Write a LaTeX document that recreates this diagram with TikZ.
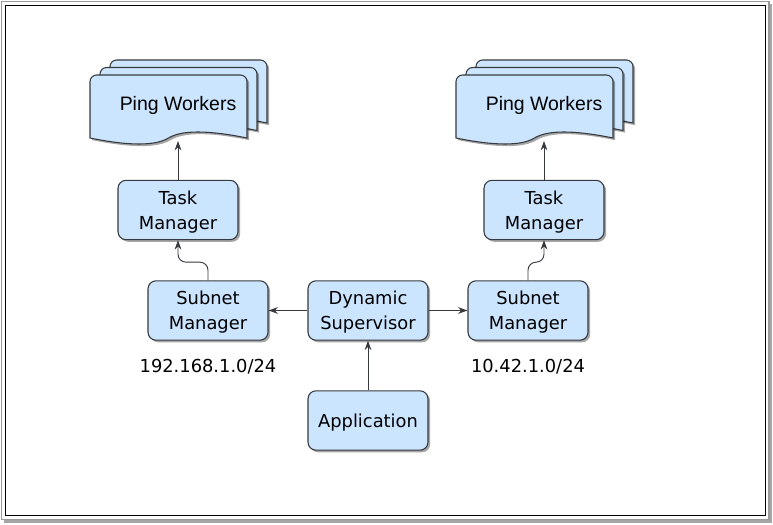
\documentclass[tikz,border=0pt]{standalone}
\usepackage{fontspec}
\setmainfont{DejaVu Sans}
\newfontfamily\pwfont{Liberation Sans}
\usetikzlibrary{arrows.meta,shadows,calc}
\definecolor{boxfill}{HTML}{CCE5FF}
\definecolor{boxline}{HTML}{36393D}
\tikzset{
  box/.style={draw=boxline, fill=boxfill, line width=0.8pt, rounded corners=6pt,
    minimum width=90pt, minimum height=44.5pt, align=center, inner sep=0pt,
    text depth=0pt,
    font=\fontsize{13.4pt}{18.5pt}\selectfont,
    drop shadow={shadow xshift=1.6pt, shadow yshift=-1.6pt, opacity=0.35, fill=black}},
  doc/.style={draw=boxline, fill=boxfill, line width=0.8pt,
    drop shadow={shadow xshift=1.6pt, shadow yshift=-1.6pt, opacity=0.35, fill=black}},
  conn/.style={draw=boxline, line width=0.7pt, -{Stealth[length=7pt,width=5pt]}},
  lbl/.style={font=\fontsize{13.4pt}{16pt}\selectfont, inner sep=0pt},
  pwlbl/.style={font=\pwfont\fontsize{14.6pt}{16pt}\selectfont, inner sep=0pt}
}
% document shape: #1 left x, #2 top y, width 157, wave
\newcommand\mydoc[2]{%
  \path[doc] ($(#1,#2)+(0,10)$) [rounded corners=5pt] -- (#1,#2) -- ($(#1,#2)+(157,0)$) [sharp corners] -- ($(#1,#2)+(157,63)$)
   .. controls ($(#1,#2)+(117.75,55)$) and ($(#1,#2)+(91.6,55)$) .. ($(#1,#2)+(78.5,63)$)
   .. controls ($(#1,#2)+(65.4,71)$) and ($(#1,#2)+(39.25,71)$) .. ($(#1,#2)+(0,63)$) -- cycle;}
\begin{document}
\begin{tikzpicture}[x=0.75pt,y=-0.75pt]
\useasboundingbox (0,0) rectangle (773,524);
\fill[white] (0,0) rectangle (773,524);
% frame
\draw[gray!70, line width=2.2pt] (4,521.5) -- (771,521.5) -- (771,4);
\draw[gray!80, line width=0.8pt] (1.5,1.5) rectangle (769,519.5);
\draw[black, line width=1.3pt] (5.5,5.5) rectangle (765.5,515.5);

% left ping workers stack
\mydoc{110}{60}
\mydoc{100}{67.5}
\mydoc{90}{75}
\node[pwlbl] (pwl) at (178,105) {Ping Workers};
\coordinate (pwlb) at (178,141);
% right ping workers stack
\mydoc{476}{60}
\mydoc{466}{67.5}
\mydoc{456}{75}
\node[pwlbl] (pwr) at (544,105) {Ping Workers};
\coordinate (pwrb) at (544,141);

\node[box] (tml) at (178,210) {Task\\Manager};
\node[box] (tmr) at (544,210) {Task\\Manager};
\node[box] (sml) at (208,310.5) {Subnet\\Manager};
\node[box] (ds) at (368,310.5) {Dynamic\\Supervisor};
\node[box] (smr) at (528,310.5) {Subnet\\Manager};
\node[box] (app) at (368,420.5) {Application};

\node[lbl] (ipl) at (208,367) {192.168.1.0/24};
\node[lbl] (ipr) at (528,367) {10.42.1.0/24};

\draw[conn] (tml.north) -- (pwlb);
\draw[conn] (tmr.north) -- (pwrb);
\draw[conn, rounded corners=6pt] (sml.north) |- ($(tml.south)+(0,22)$) -- (tml.south);
\draw[conn, rounded corners=6pt] (smr.north) |- ($(tmr.south)+(0,22)$) -- (tmr.south);
\draw[conn] (ds.west) -- (sml.east);
\draw[conn] (ds.east) -- (smr.west);
\draw[conn] (app.north) -- (ds.south);
\end{tikzpicture}
\end{document}
